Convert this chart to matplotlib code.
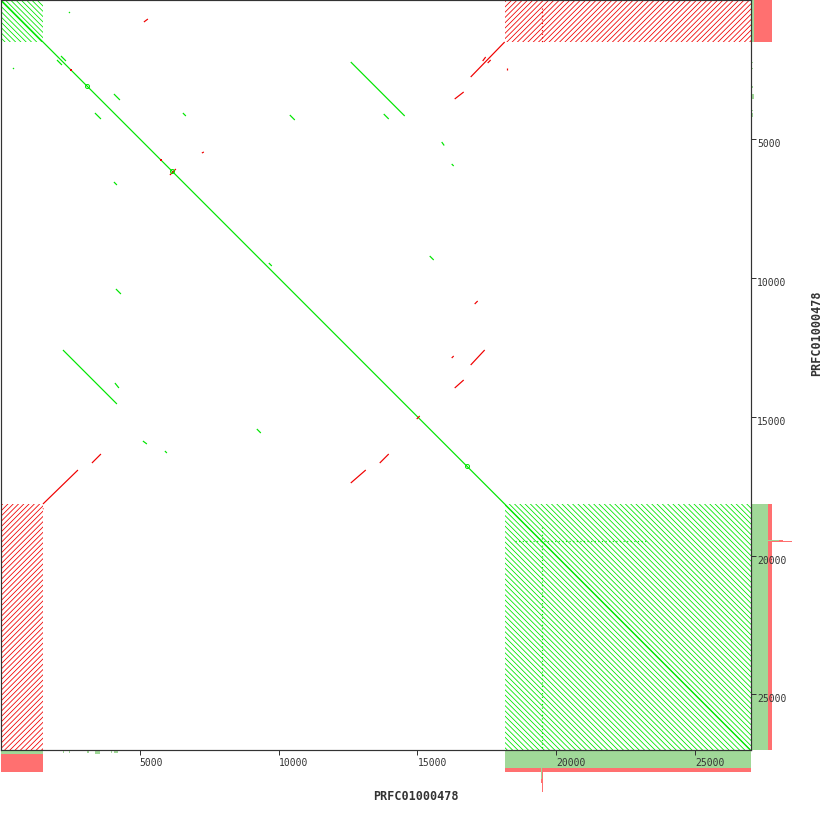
import numpy as np
import matplotlib
matplotlib.use('Agg')
from matplotlib import pyplot as plt
from matplotlib.patches import Rectangle

seq_name = 'PRFC01000478'
seq_len = 27000

# tandem repeat blocks (start, end, strand of the repeat unit)
repeat_start = [0, 18144]
repeat_end = [1512, 27000]
repeat_strand = ['+', '-']

# forward matches (x1, y1, x2, y2) in bp
fwd_segments = [
    (0, 0, 27000, 27000),
    (12600, 2232, 14544, 4176), (2232, 12600, 4176, 14544),
    (13788, 4104, 13968, 4284), (4104, 13788, 4248, 13968),
    (15876, 5112, 15966, 5238), (5112, 15876, 5256, 15984),
    (16236, 5904, 16308, 5976), (5904, 16236, 5976, 16308),
    (15444, 9216, 15588, 9360), (9216, 15444, 9360, 15588),
    (4068, 3384, 4284, 3600), (3384, 4068, 3600, 4284),
    (6552, 4068, 6660, 4176), (4068, 6552, 4176, 6660),
    (10404, 4140, 10584, 4320), (4140, 10404, 4320, 10584),
    (9648, 9468, 9756, 9576),
    (2016, 2160, 2196, 2340), (2160, 2016, 2340, 2196),
    (432, 2448, 468, 2484), (2448, 432, 2484, 468),
]
fwd_blobs = [3096, 6156, 16776]
# broken repeat columns inside the repeat block
fwd_dotted = [(19476, 18972, 19476, 27000), (18500, 19476, 23300, 19476)]
rev_dotted = [(19476, 300, 19476, 1512)]

# reverse matches (x1, y1, x2, y2) in bp
rev_segments = [
    (16920, 2772, 18144, 1512), (1512, 18144, 2772, 16920),
    (17352, 2196, 17460, 2052), (17532, 2268, 17640, 2160),
    (16344, 3564, 16668, 3312), (3276, 16668, 3600, 16344),
    (17064, 10944, 17172, 10836), (16236, 12888, 16308, 12816),
    (16920, 13140, 17424, 12600), (16344, 13968, 16668, 13680),
    (13644, 16668, 13968, 16344), (12600, 17388, 13140, 16920),
    (14976, 15084, 15084, 14976), (6084, 6300, 6300, 6084),
    (7236, 5508, 7308, 5472), (5148, 792, 5292, 684),
    (18216, 2448, 18216, 2520), (1512, 18324, 1530, 18306),
]
rev_dots = [2520, 5760]

# match profile along the sequence (start, end, forward, reverse)
prof_start = [0, 2232, 2448, 3096, 3384, 3960, 4068, 18144, 19440, 19476]
prof_end = [1512, 2268, 2484, 3168, 3564, 3996, 4212, 27000, 19476, 19512]
prof_fwd = [3, 2, 2, 2, 2.5, 2, 2, 17, 28, 17]
prof_rev = [21, 0, 0, 0, 0, 0, 0, 21, 32, 41]

green = '#00e600'
red = '#f00000'
fill_green = '#a0d898'
fill_red = '#ff7070'
dark = '#333333'

DPI = 95
def pt(px):
    return px * 72.0 / DPI

plt.rcParams['hatch.linewidth'] = pt(0.8)

W = 830.0
fig = plt.figure(figsize=(W / DPI, W / DPI), dpi=DPI)
ax = fig.add_axes([1 / W, 80 / W, 749.5 / W, 750 / W], zorder=2)
axr = fig.add_axes([751 / W, 80 / W, 45 / W, 750 / W], sharey=ax, zorder=1)
axb = fig.add_axes([1 / W, 34 / W, 749.5 / W, 45 / W], sharex=ax, zorder=1)

# hatched blocks for the tandem repeats
for i in range(len(repeat_start)):
    for j in range(len(repeat_start)):
        same = repeat_strand[i] == repeat_strand[j]
        ax.add_patch(Rectangle((repeat_start[i], repeat_start[j]),
                               repeat_end[i] - repeat_start[i],
                               repeat_end[j] - repeat_start[j],
                               fill=False, linewidth=0,
                               edgecolor=green if same else red,
                               hatch=('\\' if same else '/') * 6))

for x1, y1, x2, y2 in fwd_segments:
    ax.plot([x1, x2], [y1, y2], color=green, lw=pt(1.2), solid_capstyle='butt')
for x1, y1, x2, y2 in rev_segments:
    ax.plot([x1, x2], [y1, y2], color=red, lw=pt(1.2), solid_capstyle='butt')
for x1, y1, x2, y2 in fwd_dotted:
    ax.plot([x1, x2], [y1, y2], color=green, lw=pt(1.2), ls=(0, (1, 2)))
for x1, y1, x2, y2 in rev_dotted:
    ax.plot([x1, x2], [y1, y2], color=red, lw=pt(1.2), ls=(0, (1, 2)))
ax.plot(fwd_blobs, fwd_blobs, 'o', ms=pt(4), mfc='none', mec=green, mew=pt(1))
ax.plot(rev_dots, rev_dots, 's', ms=pt(2), color=red, mew=0)

ax.set_xlim(0, seq_len)
ax.set_ylim(seq_len, 0)
ticks = [5000, 10000, 15000, 20000, 25000]
ax.set_xticks(ticks)
ax.set_yticks(ticks)
ax.xaxis.tick_bottom()
ax.yaxis.tick_right()
ax.tick_params(direction='out', length=pt(5), width=pt(1), color=dark,
               labelsize=pt(9.8), labelcolor=dark)
ax.tick_params(axis='x', pad=pt(3))
ax.tick_params(axis='y', pad=pt(1.5))
for lab in ax.get_xticklabels():
    lab.set_ha('left')
    lab.set_family('DejaVu Sans Mono')
for lab in ax.get_yticklabels():
    lab.set_va('top')
    lab.set_family('DejaVu Sans Mono')
for s in ax.spines.values():
    s.set_color(dark)
    s.set_linewidth(pt(1.2))

# profiles
widths = np.array(prof_end) - np.array(prof_start)
axr.barh(prof_start, prof_rev, height=widths, align='edge', color=fill_red, lw=0)
axr.barh(prof_start, prof_fwd, height=widths, align='edge', color=fill_green, lw=0)
axr.set_xlim(0, 45)
axb.bar(prof_start, prof_rev, width=widths, align='edge', color=fill_red, lw=0)
axb.bar(prof_start, prof_fwd, width=widths, align='edge', color=fill_green, lw=0)
axb.set_ylim(45, 0)
for a in (axr, axb):
    a.axis('off')

fig.text(416 / W, 1 - 797 / W, seq_name, ha='center', va='center',
         family='DejaVu Sans Mono', weight='bold', size=pt(11.8), color=dark)
fig.text(817 / W, 1 - 333 / W, seq_name, ha='center', va='center', rotation=90,
         family='DejaVu Sans Mono', weight='bold', size=pt(11.8), color=dark)

fig.savefig('out.png', dpi=DPI, facecolor='white')
